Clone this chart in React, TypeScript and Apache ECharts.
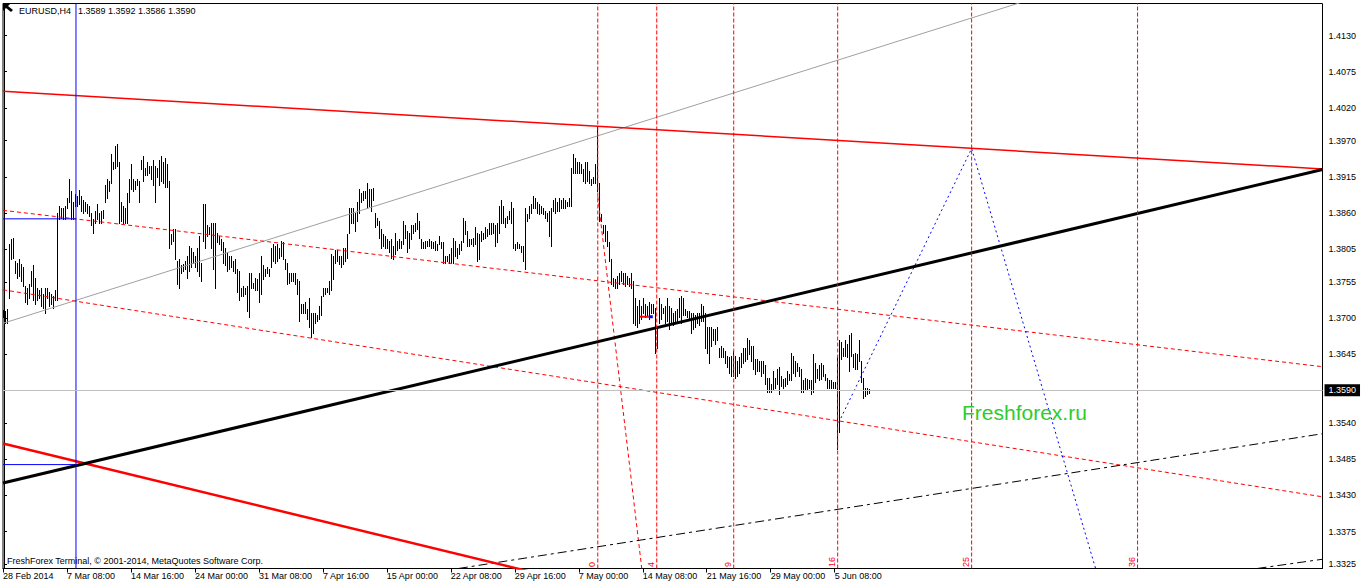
import React, { useEffect, useRef } from "react";
import * as echarts from "echarts";

// ---------- texts ----------
const SYMBOL = "EURUSD,H4";
const HEADER_QUOTE = "1.3589 1.3592 1.3586 1.3590";
const COPYRIGHT = "FreshForex Terminal, \u00A9 2001-2014, MetaQuotes Software Corp.";
const WATERMARK = "Freshforex.ru";

// ---------- axes ----------
const X_LABEL_BARS = [0, 32, 64, 96, 128, 160, 192, 224, 256, 288, 320, 352, 384, 416];
const X_LABELS = [
  "28 Feb 2014", "7 Mar 08:00", "14 Mar 16:00", "24 Mar 00:00", "31 Mar 08:00",
  "7 Apr 16:00", "15 Apr 00:00", "22 Apr 08:00", "29 Apr 16:00", "7 May 00:00",
  "14 May 08:00", "21 May 16:00", "29 May 00:00", "5 Jun 08:00",
];
const Y_TICKS = [1.413, 1.4075, 1.402, 1.397, 1.3915, 1.386, 1.3805, 1.3755, 1.37, 1.3645, 1.354, 1.3485, 1.343, 1.3375, 1.3325];
const PRICE_MIN = 1.33189;
const PRICE_MAX = 1.41787;
const BAR_MIN = -0.5;
const BAR_MAX = 659.5;
const LAST_PRICE = 1.359;

// ---------- H4 bars (high / low) ----------
const HIGHS = [
  1.3713,1.3711,1.3714,1.3813,1.3821,1.3822,1.3787,1.3784,1.3790,1.3783,
  1.3778,1.3749,1.3746,1.3752,1.3772,1.3780,1.3761,1.3746,1.3742,1.3745,
  1.3737,1.3746,1.3745,1.3739,1.3737,1.3734,1.3742,1.3860,1.3871,1.3868,
  1.3867,1.3871,1.3882,1.3912,1.3894,1.3876,1.3889,1.3886,1.3895,1.3886,
  1.3879,1.3876,1.3874,1.3871,1.3860,1.3851,1.3863,1.3874,1.3860,1.3863,
  1.3865,1.3902,1.3912,1.3909,1.3950,1.3937,1.3962,1.3965,1.3937,1.3876,
  1.3871,1.3868,1.3891,1.3912,1.3935,1.3912,1.3909,1.3912,1.3909,1.3940,
  1.3947,1.3929,1.3937,1.3932,1.3932,1.3940,1.3932,1.3929,1.3940,1.3947,
  1.3937,1.3943,1.3935,1.3909,1.3828,1.3836,1.3836,1.3787,1.3790,1.3780,
  1.3783,1.3787,1.3795,1.3810,1.3807,1.3800,1.3795,1.3806,1.3825,1.3784,
  1.3874,1.3874,1.3841,1.3838,1.3845,1.3844,1.3844,1.3830,1.3825,1.3821,
  1.3815,1.3807,1.3800,1.3795,1.3795,1.3787,1.3790,1.3775,1.3772,1.3746,
  1.3749,1.3746,1.3749,1.3768,1.3769,1.3754,1.3761,1.3760,1.3768,1.3795,
  1.3780,1.3775,1.3777,1.3775,1.3806,1.3813,1.3810,1.3813,1.3806,1.3818,
  1.3815,1.3790,1.3784,1.3769,1.3769,1.3769,1.3769,1.3760,1.3757,1.3722,
  1.3722,1.3724,1.3714,1.3730,1.3708,1.3707,1.3708,1.3704,1.3719,1.3734,
  1.3746,1.3746,1.3745,1.3757,1.3798,1.3795,1.3803,1.3803,1.3795,1.3795,
  1.3807,1.3806,1.3828,1.3868,1.3868,1.3867,1.3860,1.3876,1.3897,1.3891,
  1.3894,1.3894,1.3905,1.3897,1.3897,1.3898,1.3860,1.3853,1.3848,1.3836,
  1.3828,1.3825,1.3821,1.3818,1.3821,1.3810,1.3830,1.3818,1.3821,1.3818,
  1.3848,1.3841,1.3833,1.3830,1.3841,1.3841,1.3844,1.3860,1.3848,1.3821,
  1.3815,1.3818,1.3818,1.3821,1.3818,1.3815,1.3818,1.3813,1.3825,1.3815,
  1.3815,1.3795,1.3795,1.3798,1.3807,1.3822,1.3818,1.3806,1.3813,1.3818,
  1.3853,1.3848,1.3833,1.3821,1.3821,1.3822,1.3838,1.3830,1.3828,1.3833,
  1.3830,1.3838,1.3836,1.3845,1.3844,1.3845,1.3841,1.3844,1.3871,1.3879,
  1.3871,1.3853,1.3856,1.3863,1.3876,1.3868,1.3813,1.3815,1.3813,1.3810,
  1.3810,1.3867,1.3859,1.3871,1.3874,1.3886,1.3883,1.3876,1.3874,1.3871,
  1.3867,1.3863,1.3860,1.3863,1.3867,1.3879,1.3882,1.3876,1.3882,1.3879,
  1.3883,1.3879,1.3876,1.3883,1.3929,1.3950,1.3943,1.3937,1.3937,1.3935,
  1.3927,1.3937,1.3937,1.3924,1.3912,1.3914,1.3935,1.3993,1.3906,1.3859,
  1.3841,1.3841,1.3833,1.3815,1.3790,1.3761,1.3760,1.3764,1.3769,1.3772,
  1.3769,1.3768,1.3764,1.3761,1.3769,1.3757,1.3730,1.3719,1.3727,1.3719,
  1.3730,1.3722,1.3719,1.3724,1.3722,1.3722,1.3716,1.3686,1.3730,1.3722,
  1.3716,1.3719,1.3730,1.3719,1.3716,1.3708,1.3711,1.3714,1.3730,1.3734,
  1.3731,1.3714,1.3711,1.3711,1.3707,1.3707,1.3704,1.3707,1.3707,1.3722,
  1.3719,1.3707,1.3686,1.3686,1.3686,1.3684,1.3684,1.3686,1.3655,1.3658,
  1.3655,1.3650,1.3643,1.3640,1.3643,1.3650,1.3643,1.3635,1.3640,1.3647,
  1.3654,1.3655,1.3669,1.3666,1.3658,1.3658,1.3638,1.3638,1.3635,1.3635,
  1.3635,1.3628,1.3609,1.3609,1.3600,1.3620,1.3609,1.3623,1.3625,1.3612,
  1.3608,1.3609,1.3620,1.3615,1.3647,1.3643,1.3635,1.3632,1.3625,1.3623,
  1.3605,1.3609,1.3608,1.3605,1.3605,1.3646,1.3632,1.3623,1.3628,1.3631,
  1.3628,1.3615,1.3609,1.3605,1.3605,1.3602,1.3602,1.3640,1.3666,1.3663,
  1.3655,1.3666,1.3661,1.3674,1.3677,1.3646,1.3647,1.3646,1.3666,1.3635,
  1.3609,1.3593,1.3593,1.3592,
];
const LOWS = [
  1.3701,1.3692,1.3693,1.3731,1.3790,1.3792,1.3769,1.3761,1.3764,1.3757,
  1.3749,1.3724,1.3722,1.3731,1.3749,1.3727,1.3722,1.3727,1.3730,1.3719,
  1.3716,1.3707,1.3731,1.3719,1.3722,1.3716,1.3727,1.3727,1.3851,1.3853,
  1.3850,1.3851,1.3867,1.3876,1.3851,1.3851,1.3871,1.3871,1.3873,1.3863,
  1.3860,1.3863,1.3860,1.3856,1.3841,1.3830,1.3844,1.3851,1.3844,1.3845,
  1.3853,1.3876,1.3883,1.3894,1.3906,1.3927,1.3929,1.3932,1.3844,1.3848,
  1.3844,1.3845,1.3845,1.3876,1.3897,1.3894,1.3897,1.3902,1.3876,1.3927,
  1.3909,1.3917,1.3917,1.3921,1.3912,1.3902,1.3876,1.3914,1.3902,1.3909,
  1.3905,1.3900,1.3900,1.3807,1.3813,1.3818,1.3790,1.3752,1.3746,1.3769,
  1.3772,1.3775,1.3761,1.3772,1.3777,1.3784,1.3777,1.3772,1.3764,1.3757,
  1.3818,1.3807,1.3825,1.3828,1.3806,1.3775,1.3746,1.3815,1.3813,1.3803,
  1.3784,1.3780,1.3772,1.3775,1.3777,1.3772,1.3769,1.3739,1.3727,1.3734,
  1.3734,1.3737,1.3711,1.3701,1.3745,1.3745,1.3742,1.3742,1.3724,1.3737,
  1.3760,1.3764,1.3768,1.3764,1.3777,1.3787,1.3784,1.3787,1.3792,1.3795,
  1.3790,1.3775,1.3752,1.3754,1.3757,1.3757,1.3752,1.3737,1.3696,1.3707,
  1.3708,1.3707,1.3699,1.3686,1.3671,1.3678,1.3692,1.3696,1.3699,1.3704,
  1.3734,1.3737,1.3739,1.3737,1.3742,1.3760,1.3784,1.3787,1.3783,1.3777,
  1.3783,1.3787,1.3792,1.3830,1.3844,1.3845,1.3833,1.3848,1.3860,1.3876,
  1.3879,1.3882,1.3868,1.3871,1.3863,1.3879,1.3838,1.3841,1.3822,1.3806,
  1.3810,1.3807,1.3807,1.3800,1.3792,1.3790,1.3798,1.3803,1.3806,1.3807,
  1.3813,1.3822,1.3800,1.3806,1.3821,1.3830,1.3833,1.3836,1.3822,1.3807,
  1.3807,1.3806,1.3810,1.3810,1.3807,1.3807,1.3803,1.3803,1.3813,1.3807,
  1.3784,1.3784,1.3787,1.3784,1.3784,1.3784,1.3795,1.3792,1.3798,1.3803,
  1.3815,1.3828,1.3810,1.3810,1.3813,1.3810,1.3813,1.3787,1.3790,1.3818,
  1.3821,1.3822,1.3825,1.3828,1.3828,1.3830,1.3810,1.3815,1.3830,1.3844,
  1.3845,1.3838,1.3845,1.3851,1.3844,1.3807,1.3803,1.3806,1.3806,1.3800,
  1.3787,1.3775,1.3848,1.3853,1.3860,1.3867,1.3868,1.3860,1.3859,1.3860,
  1.3859,1.3853,1.3848,1.3825,1.3810,1.3863,1.3860,1.3863,1.3863,1.3867,
  1.3867,1.3868,1.3871,1.3871,1.3871,1.3920,1.3920,1.3921,1.3920,1.3920,
  1.3909,1.3906,1.3909,1.3906,1.3902,1.3905,1.3906,1.3894,1.3848,1.3848,
  1.3830,1.3818,1.3810,1.3787,1.3752,1.3749,1.3745,1.3746,1.3752,1.3757,
  1.3752,1.3749,1.3752,1.3749,1.3746,1.3692,1.3689,1.3686,1.3693,1.3699,
  1.3707,1.3701,1.3704,1.3699,1.3707,1.3707,1.3647,1.3655,1.3692,1.3699,
  1.3707,1.3692,1.3696,1.3684,1.3692,1.3689,1.3696,1.3696,1.3701,1.3693,
  1.3704,1.3704,1.3701,1.3699,1.3677,1.3684,1.3686,1.3692,1.3689,1.3696,
  1.3696,1.3655,1.3647,1.3631,1.3658,1.3666,1.3661,1.3666,1.3640,1.3640,
  1.3640,1.3632,1.3625,1.3617,1.3612,1.3612,1.3609,1.3612,1.3617,1.3625,
  1.3632,1.3635,1.3638,1.3646,1.3635,1.3623,1.3615,1.3620,1.3620,1.3612,
  1.3617,1.3600,1.3587,1.3587,1.3587,1.3590,1.3593,1.3600,1.3585,1.3597,
  1.3594,1.3597,1.3600,1.3605,1.3605,1.3617,1.3612,1.3620,1.3612,1.3587,
  1.3587,1.3590,1.3590,1.3594,1.3585,1.3587,1.3602,1.3609,1.3605,1.3608,
  1.3612,1.3605,1.3594,1.3594,1.3593,1.3593,1.3593,1.3501,1.3526,1.3638,
  1.3643,1.3643,1.3640,1.3620,1.3643,1.3625,1.3623,1.3623,1.3635,1.3602,
  1.3579,1.3582,1.3585,1.3586,
];

// ---------- drawn objects (bar index, price) ----------
const TREND_BLACK = [[-0.5, 1.3449], [659.5, 1.3926]];
const TREND_RED_TOP = [[-0.5, 1.4045], [659.5, 1.3927]];
const TREND_RED_THICK = [[-0.5, 1.3509], [659.5, 1.3021]];
const CHANNEL_RED_1 = [[-0.5, 1.3864], [659.5, 1.3626]];
const CHANNEL_RED_2 = [[-0.5, 1.3743], [659.5, 1.3428]];
const GRAY_LINE = [[-0.5, 1.3692], [659.5, 1.4325]];
const DASHDOT_1 = [[227.5, 1.3319], [659.5, 1.3524]];
const DASHDOT_2 = [[627, 1.3319], [659.5, 1.3333]];
const BLUE_ZIGZAG = [[417.5, 1.3541], [484, 1.3958], [546, 1.3319]];
const RED_SLANT = [[297, 1.3885], [319, 1.3319]];
const BLUE_LEVEL_1 = [[-0.5, 1.3851], [36, 1.3851]];
const BLUE_LEVEL_2 = [[-0.5, 1.3477], [36, 1.3477]];
const SMALL_RED = [[318, 1.3702], [322.5, 1.3702]];
const SMALL_BLUE = [[322.5, 1.3702], [324.5, 1.3702]];
const BLUE_VERTICAL_BAR = 36;
const TIME_ZONE_BARS = [297, 326.5, 365, 417, 484, 567];
const TIME_ZONE_LABELS = ["0", "4", "9", "16", "25", "36"];

const FONT = "'Liberation Sans', Arial, sans-serif";
const RED = "#ff0000";

function seg(data: number[][], color: string, width: number, type: any, z = 3): any {
  return {
    type: "line",
    data,
    symbol: "none",
    showSymbol: false,
    silent: true,
    clip: true,
    z,
    color,
    itemStyle: { color },
    lineStyle: { color, width, type },
  };
}

function vertical(bar: number, color: string, type: any): any {
  return seg([[bar, PRICE_MIN], [bar, PRICE_MAX]], color, 1, type, 4);
}

export default function App() {
  const ref = useRef<HTMLDivElement>(null);

  useEffect(() => {
    document.body.style.margin = "0";
    if (!ref.current) return;
    const chart = echarts.init(ref.current, undefined, { renderer: "svg" });

    const barData = HIGHS.map((h, i) => [i, h, LOWS[i]]);

    const option: any = {
      animation: false,
      backgroundColor: "#ffffff",
      textStyle: { fontFamily: FONT },
      grid: {
        show: true,
        left: 2.5,
        top: 3.5,
        width: 1320,
        height: 565,
        borderColor: "#000",
        borderWidth: 1,
        backgroundColor: "#ffffff",
      },
      xAxis: {
        type: "value",
        min: BAR_MIN,
        max: BAR_MAX,
        position: "bottom",
        axisLine: { show: true, lineStyle: { color: "#000", width: 1 } },
        axisTick: {
          show: true,
          customValues: X_LABEL_BARS.map((b) => b - 0.5),
          length: 4,
          inside: false,
          lineStyle: { color: "#000" },
        },
        axisLabel: {
          show: true,
          customValues: X_LABEL_BARS.map((b) => b - 0.5),
          formatter: (v: number) => {
            const k = X_LABEL_BARS.indexOf(Math.round(v + 0.5));
            return k >= 0 ? X_LABELS[k] : "";
          },
          align: "left",
          margin: 3,
          color: "#000",
          fontSize: 9,
          fontFamily: FONT,
        },
        splitLine: { show: false },
      },
      yAxis: {
        type: "value",
        position: "right",
        min: PRICE_MIN,
        max: PRICE_MAX,
        axisLine: { show: true, lineStyle: { color: "#000", width: 1 } },
        axisTick: {
          show: true,
          customValues: Y_TICKS,
          length: 3,
          inside: false,
          lineStyle: { color: "#000" },
        },
        axisLabel: {
          show: true,
          customValues: Y_TICKS,
          formatter: (v: number) => v.toFixed(4),
          margin: 6,
          color: "#000",
          fontSize: 9,
          fontFamily: FONT,
        },
        splitLine: { show: false },
      },
      graphic: [
        {
          type: "polygon",
          shape: { points: [[3, 4], [10, 4], [8, 6], [13, 10], [11, 12], [6, 8], [3, 11]] },
          style: { fill: "#000" },
          z: 100,
        },
        {
          type: "text",
          x: 19,
          y: 11,
          z: 100,
          style: { text: SYMBOL, fill: "#000", fontSize: 9, fontFamily: FONT, verticalAlign: "middle" },
        },
        {
          type: "text",
          x: 78,
          y: 11,
          z: 100,
          style: { text: HEADER_QUOTE, fill: "#000", fontSize: 9, fontFamily: FONT, verticalAlign: "middle" },
        },
        {
          type: "text",
          x: 7,
          y: 561,
          z: 100,
          style: { text: COPYRIGHT, fill: "#000", fontSize: 9, fontFamily: FONT, verticalAlign: "middle" },
        },
        {
          type: "text",
          x: 962,
          y: 412,
          z: 100,
          style: { text: WATERMARK, fill: "#2ecc2e", fontSize: 21, fontFamily: FONT, verticalAlign: "middle" },
        },
      ],
      series: [
        {
          type: "custom",
          name: "bars",
          data: barData,
          encode: { x: 0, y: [1, 2] },
          silent: true,
          z: 2,
          renderItem: (params: any, api: any) => {
            const i = api.value(0);
            const top = api.coord([i, api.value(1)]);
            const bot = api.coord([i, api.value(2)]);
            const x = Math.floor(top[0]);
            const y0 = Math.round(top[1]);
            const y1 = Math.round(bot[1]);
            return {
              type: "rect",
              shape: { x, y: y0, width: 1, height: Math.max(1, y1 - y0 + 1) },
              style: { fill: "#000" },
            };
          },
        },
        {
          ...seg(GRAY_LINE, "#a0a0a0", 1, "solid"),
          markLine: {
            silent: true,
            precision: 4,
            symbol: ["none", "none"],
            lineStyle: { color: "#c0c0c0", type: "solid", width: 1 },
            label: {
              show: true,
              position: "end",
              distance: 2,
              formatter: () => LAST_PRICE.toFixed(4),
              backgroundColor: "#000",
              color: "#fff",
              padding: [2, 4, 1, 4],
              fontSize: 9,
              fontFamily: FONT,
            },
            data: [{ yAxis: LAST_PRICE }],
          },
        },
        seg(TREND_RED_TOP, RED, 1.5, "solid"),
        seg(CHANNEL_RED_1, RED, 1, [4, 3]),
        seg(CHANNEL_RED_2, RED, 1, [4, 3]),
        seg(RED_SLANT, RED, 1, [4, 3]),
        seg(DASHDOT_1, "#000", 1, [9, 4, 3, 4]),
        seg(DASHDOT_2, "#000", 1, [9, 4, 3, 4]),
        seg(BLUE_ZIGZAG, "#0000ff", 1, [2, 3]),
        seg(BLUE_LEVEL_1, "#0000ff", 1, "solid"),
        seg(BLUE_LEVEL_2, "#0000ff", 1, "solid"),
        seg(TREND_RED_THICK, RED, 2.5, "solid"),
        seg(TREND_BLACK, "#000", 3, "solid"),
        seg(SMALL_RED, RED, 2, "solid"),
        seg(SMALL_BLUE, "#0000ff", 3, "solid"),
        vertical(BLUE_VERTICAL_BAR, "#0000ff", "solid"),
        ...TIME_ZONE_BARS.map((b) => vertical(b, RED, [4, 2])),
        {
          type: "custom",
          name: "timeZoneLabels",
          data: TIME_ZONE_BARS.map((b, k) => [b, k]),
          encode: { x: 0 },
          silent: true,
          z: 5,
          renderItem: (params: any, api: any) => {
            const v = api.value(0);
            const k = api.value(1);
            const bot = api.coord([v, PRICE_MIN]);
            return {
              type: "text",
              x: Math.floor(bot[0]) - 1,
              y: Math.floor(bot[1]) - 1,
              rotation: Math.PI / 2,
              style: {
                text: TIME_ZONE_LABELS[k],
                fill: RED,
                fontSize: 9,
                fontFamily: FONT,
                align: "left",
                verticalAlign: "bottom",
              },
            };
          },
        },
      ],
    };

    chart.setOption(option);
    return () => chart.dispose();
  }, []);

  return <div ref={ref} style={{ width: 1362, height: 586 }} />;
}
